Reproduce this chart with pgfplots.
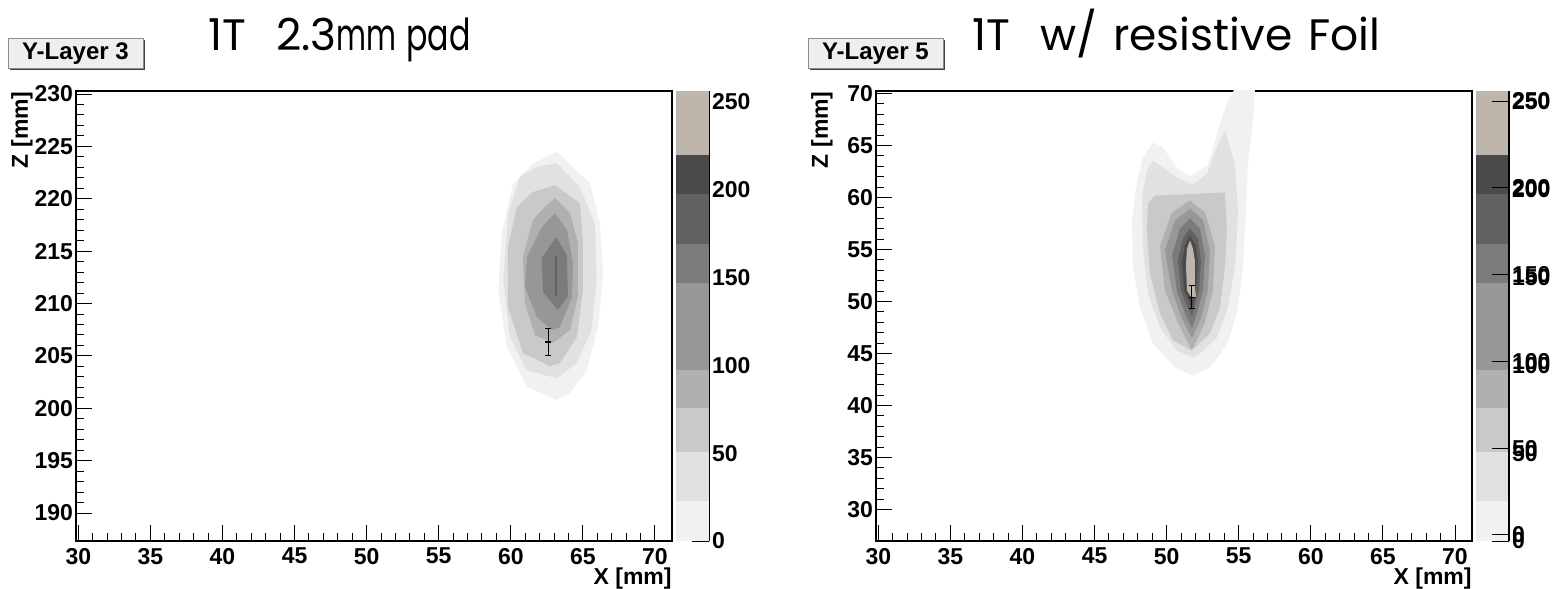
\documentclass[border=0pt]{standalone}
\usepackage{pgfplots}
\pgfplotsset{compat=1.18}
\usepackage{fontspec}
\setmainfont{Liberation Sans}
\newfontfamily\titlefont{Poppins}
\definecolor{cA}{HTML}{F1F1F1}
\definecolor{cB}{HTML}{E1E1E1}
\definecolor{cC}{HTML}{C9C9C9}
\definecolor{cD}{HTML}{B0B0B0}
\definecolor{cE}{HTML}{979797}
\definecolor{cF}{HTML}{7B7B7B}
\definecolor{cG}{HTML}{616161}
\definecolor{cH}{HTML}{4A4A4A}
\definecolor{cI}{HTML}{BEB5AC}
\definecolor{boxgray}{HTML}{EEEEEE}
\newcommand{\rootfont}{\bfseries\fontsize{11.5}{13}\selectfont}
\pgfplotsset{
  rootmain/.style={
    scale only axis, width=298pt, height=225pt, anchor=north west,
    xmin=29.84, xmax=71.18,
    axis line style={line width=0.6pt, black},
    tick style={line width=0.5pt, black},
    tick align=inside, xtick pos=left, ytick pos=left,
    major tick length=8pt, minor tick length=4pt,
    minor x tick num=4, minor y tick num=4,
    xtick={30,35,...,70},
    tick label style={font=\rootfont},
    /pgf/number format/assume math mode=true,
    xlabel={X [mm]}, ylabel={Z [mm]},
    label style={font=\rootfont},
    xlabel style={at={(axis description cs:1,0)}, anchor=north east, yshift=-13pt, inner sep=0pt},
    ylabel style={at={(axis description cs:-0.072,1)}, anchor=south east, inner sep=0pt},
    yticklabel style={xshift=2pt},
  },
  cbar/.style={
    scale only axis, width=16.5pt, height=225pt, anchor=north west,
    xmin=0, xmax=1, ymin=0, ymax=256,
    axis x line=none, axis y line*=right,
    axis line style={line width=0.6pt, black},
    tick style={line width=0.5pt, black},
    ytick={0,50,...,250}, tick align=inside, major tick length=8.5pt,
    tick label style={font=\rootfont},
    /pgf/number format/assume math mode=true,
    yticklabel style={anchor=west, xshift=-2pt},
  },
  ebar/.style={black, line width=0.7pt, mark=-, mark size=1.6pt,
    error bars/.cd, y dir=both, y explicit, error mark=|,
    error mark options={mark size=1.6pt, line width=0.6pt}},
}
\newcommand{\bands}{%
  \addplot[fill=cA, draw=none] coordinates {(0,0) (1,0) (1,22.5) (0,22.5)} -- cycle;
  \addplot[fill=cB, draw=none] coordinates {(0,22.5) (1,22.5) (1,50.5) (0,50.5)} -- cycle;
  \addplot[fill=cC, draw=none] coordinates {(0,50.5) (1,50.5) (1,75.5) (0,75.5)} -- cycle;
  \addplot[fill=cD, draw=none] coordinates {(0,75.5) (1,75.5) (1,97.5) (0,97.5)} -- cycle;
  \addplot[fill=cE, draw=none] coordinates {(0,97.5) (1,97.5) (1,147) (0,147)} -- cycle;
  \addplot[fill=cF, draw=none] coordinates {(0,147) (1,147) (1,169) (0,169)} -- cycle;
  \addplot[fill=cG, draw=none] coordinates {(0,169) (1,169) (1,197.5) (0,197.5)} -- cycle;
  \addplot[fill=cH, draw=none] coordinates {(0,197.5) (1,197.5) (1,219.5) (0,219.5)} -- cycle;
  \addplot[fill=cI, draw=none] coordinates {(0,219.5) (1,219.5) (1,256) (0,256)} -- cycle;
}
\begin{document}
\begin{tikzpicture}
\useasboundingbox (0,0) rectangle (779.5pt,-294.5pt);
% ---------- left panel ----------
\begin{axis}[rootmain, at={(38pt,-45.5pt)}, ymin=187.33, ymax=230.29, ytick={190,195,...,230}]
\addplot[fill=cA, draw=none] coordinates {(63.18,224.49) (65.49,221.47) (66.18,217.66) (66.41,212.88) (66.06,207.79) (65.26,203.65) (64.10,201.43) (63.18,200.79) (61.10,202.06) (59.71,205.88) (59.13,211.29) (59.36,216.70) (60.17,221.47) (61.55,223.38)} -- cycle;
\addplot[fill=cB, draw=none] coordinates {(63.18,223.38) (64.79,221.15) (65.83,217.68) (65.95,212.24) (65.60,207.47) (64.56,204.29) (63.18,202.86) (61.10,203.65) (59.94,206.83) (59.47,212.24) (59.82,218.61) (60.63,222.10) (61.79,223.06)} -- cycle;
\addplot[fill=cC, draw=none] coordinates {(63.06,221.31) (64.79,219.59) (65.00,216.06) (65.00,211.29) (64.58,206.80) (63.41,204.32) (62.71,204.03) (60.84,205.27) (59.80,209.67) (59.80,215.39) (60.42,219.21) (61.53,220.64)} -- cycle;
\addplot[fill=cD, draw=none] coordinates {(63.06,220.07) (64.10,218.64) (64.65,215.78) (64.65,210.62) (64.10,207.47) (62.92,206.23) (61.67,206.99) (60.98,210.05) (60.84,214.44) (61.53,217.97) (62.37,219.21)} -- cycle;
\addplot[fill=cE, draw=none] coordinates {(63.06,218.64) (63.89,217.02) (64.31,213.87) (64.24,210.62) (63.41,207.76) (62.85,207.47) (61.81,208.71) (60.98,211.58) (61.12,214.44) (62.16,217.30)} -- cycle;
\addplot[fill=cF, draw=none] coordinates {(63.13,216.35) (63.89,214.63) (63.96,210.72) (63.27,209.38) (62.23,211.10) (62.16,214.34)} -- cycle;
\addplot[fill=cG, draw=none] coordinates {(63.06,214.50) (63.22,214.50) (63.22,210.70) (63.06,210.70)} -- cycle;
\addplot[ebar] coordinates {(62.59,206.33) +- (0,1.3)};
\end{axis}
\begin{axis}[cbar, at={(338pt,-45.5pt)}]
\bands
\end{axis}
% ---------- right panel ----------
\begin{axis}[rootmain, at={(438pt,-45.5pt)}, ymin=26.97, ymax=70.24, ytick={30,35,...,70}, clip=false]
\addplot[fill=cA, draw=none] coordinates {(54.67,70.32) (56.12,70.32) (55.99,67.40) (55.64,63.27) (55.50,58.46) (55.29,53.27) (54.95,49.42) (54.25,45.96) (53.00,43.65) (51.82,42.88) (50.58,43.65) (49.05,45.96) (48.15,49.42) (47.66,53.27) (47.59,57.79) (47.94,61.63) (48.36,63.85) (49.05,65.29) (49.74,64.81) (50.71,62.88) (51.62,62.02) (52.87,63.13) (53.56,66.49) (54.25,69.38)} -- cycle;
\addplot[fill=cB, draw=none] coordinates {(54.04,66.44) (54.74,63.27) (54.95,58.46) (54.74,53.27) (54.25,49.42) (53.49,46.54) (52.31,45.00) (51.82,44.62) (50.71,45.29) (49.54,47.50) (48.70,50.77) (48.36,55.19) (48.29,60.00) (48.63,62.60) (49.05,63.56) (49.74,62.88) (50.71,61.92) (51.82,61.25) (52.80,62.31) (53.49,64.81)} -- cycle;
\addplot[fill=cC, draw=none] coordinates {(49.19,60.19) (54.04,60.48) (54.18,56.83) (54.04,53.27) (53.70,49.42) (53.00,46.92) (51.96,45.58) (51.62,45.38) (50.44,46.25) (49.54,48.85) (48.84,52.69) (48.63,56.83) (48.70,59.42)} -- cycle;
\addplot[fill=cD, draw=none] coordinates {(51.62,59.71) (52.66,58.56) (53.35,55.38) (53.21,51.06) (52.66,47.98) (51.75,45.29) (50.78,47.98) (49.88,51.06) (49.54,55.38) (50.37,58.56)} -- cycle;
\addplot[fill=cE, draw=none] coordinates {(51.62,58.94) (52.52,57.79) (53.00,54.90) (52.86,51.06) (52.38,48.37) (51.75,46.44) (51.06,48.37) (50.37,51.06) (49.88,54.90) (50.58,57.79)} -- cycle;
\addplot[fill=cF, draw=none] coordinates {(51.62,57.98) (52.31,57.02) (52.66,54.42) (52.52,51.06) (52.10,48.85) (51.75,47.40) (51.27,48.85) (50.71,51.06) (50.37,54.42) (50.92,57.02)} -- cycle;
\addplot[fill=cG, draw=none] coordinates {(51.62,57.02) (52.17,56.06) (52.38,53.94) (52.24,51.06) (51.96,49.62) (51.75,48.56) (51.41,49.62) (50.99,51.06) (50.78,53.94) (51.13,56.06)} -- cycle;
\addplot[fill=cH, draw=none] coordinates {(51.62,56.35) (52.03,55.38) (52.17,53.75) (52.03,51.06) (51.89,50.10) (51.75,49.33) (51.55,50.10) (51.20,51.06) (51.06,53.75) (51.27,55.38)} -- cycle;
\addplot[fill=cI, draw=none] coordinates {(51.62,55.87) (51.82,55.10) (51.96,53.94) (51.96,51.54) (52.03,50.48) (51.75,50.29) (51.41,51.06) (51.34,53.46) (51.41,55.10)} -- cycle;
\addplot[ebar] coordinates {(51.75,50.41) +- (0,1.1)};
\end{axis}
\begin{axis}[cbar, at={(738pt,-45.5pt)}]
\bands
\end{axis}
\begin{axis}[cbar, at={(738pt,-45.5pt)}, ymin=-3.5, ymax=255.8]
\end{axis}
% ---------- titles and boxes ----------
\node[anchor=base west, inner sep=0pt, font=\titlefont\fontsize{22}{26}\selectfont] at (104pt,-25pt) {1T\hspace{15pt}2.3\scalebox{0.66}[1]{mm}\hspace{5pt}\scalebox{0.72}[1]{pad}};
\node[anchor=base west, inner sep=0pt, font=\titlefont\fontsize{22}{26}\selectfont] at (486pt,-25pt) {1T\hspace{15pt}w/\hspace{8pt}resistive\hspace{8pt}Foil};
\foreach \ox/\lab in {0/3, 400/5}{
  \fill[black!75] (\ox pt+5pt,-20pt) rectangle (\ox pt+72.5pt,-35pt);
  \filldraw[fill=boxgray, draw=black!45, line width=0.4pt] (\ox pt+4pt,-19pt) rectangle (\ox pt+71.5pt,-34pt);
  \node[font=\bfseries\fontsize{12}{14}\selectfont, inner sep=0pt] at (\ox pt+37.7pt,-26.8pt) {Y-Layer \lab};
}
\end{tikzpicture}
\end{document}
